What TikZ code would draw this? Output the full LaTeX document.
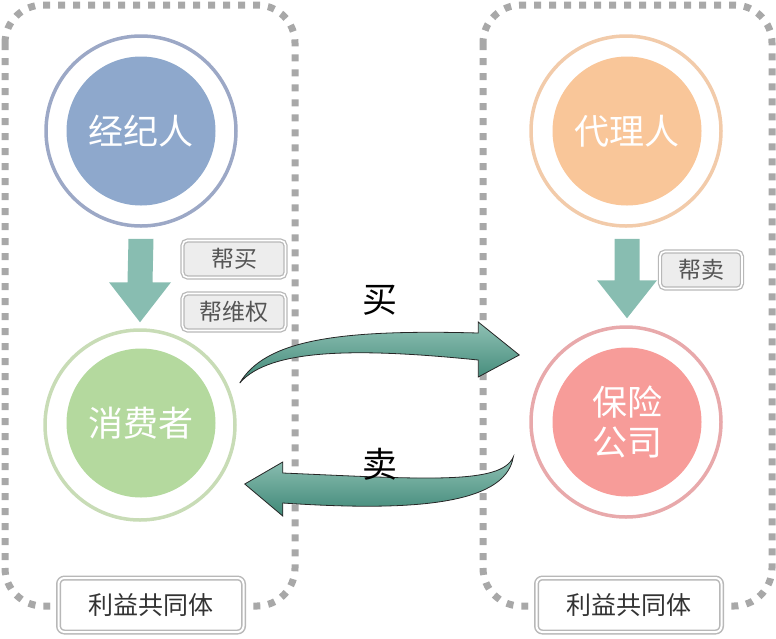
\documentclass[tikz,border=0pt]{standalone}
\usepackage{fontspec}
\newfontfamily\cjk{Noto Sans CJK SC}
\usetikzlibrary{calc}
\definecolor{dashgray}{HTML}{A8A8A8}
\definecolor{bluefill}{HTML}{8EA8CC}
\definecolor{bluering}{HTML}{9CA8C6}
\definecolor{orangefill}{HTML}{F9C699}
\definecolor{orangering}{HTML}{F2CBAA}
\definecolor{greenfill}{HTML}{B4D99E}
\definecolor{greenring}{HTML}{C8DCB6}
\definecolor{redfill}{HTML}{F79C99}
\definecolor{redring}{HTML}{E8A9AB}
\definecolor{downteal}{HTML}{88BDB1}
\definecolor{bigteal}{HTML}{5FA694}
\definecolor{bigtealdark}{HTML}{3F8877}
\definecolor{tagfill}{HTML}{EDEDED}
\definecolor{tagline}{HTML}{B8B8B8}
\definecolor{tagtext}{HTML}{555555}
\tikzset{
  groupbox/.style={draw=dashgray, line width=7pt, dash pattern=on 7pt off 8pt, rounded corners=38pt},
  ringc/.style={circle, inner sep=0pt, minimum size=190pt, line width=3.5pt, fill=white},
  corec/.style={circle, inner sep=0pt, minimum size=149pt, text=white, font=\cjk\fontsize{35}{40}\selectfont, align=center},
  tagbox/.style={draw=tagline, double=white, double distance=1.6pt, line width=1.3pt, fill=tagfill, rounded corners=5pt, text=tagtext, font=\cjk\fontsize{23}{26}\selectfont, inner sep=0pt, minimum height=37pt},
  groupname/.style={preaction={draw=white, line width=16pt}, draw=tagline, double=white, double distance=2pt, line width=1.5pt, fill=white, rounded corners=6pt, text=black!80, font=\cjk\fontsize{25}{28}\selectfont, inner sep=0pt, minimum width=185pt, minimum height=54pt},
  downarrow/.style={fill=downteal},
  bigarrow/.style={top color=bigteal!70!white, bottom color=bigtealdark, draw=black!85, line width=0.8pt},
  bigword/.style={font=\cjk\fontsize{35}{40}\selectfont, text=black}
}
\begin{document}
\begin{tikzpicture}[x=1pt, y=-1pt]
\useasboundingbox (0,0) rectangle (776,638);
% group boxes
\draw[groupbox] (5,5) rectangle (295,606);
\draw[groupbox] (483,5) rectangle (772,606);
% circles
\node[ringc, draw=bluering] (jjrR) at (141,131) {};
\node[corec, fill=bluefill] (jjr) at (141,131) {经纪人};
\node[ringc, draw=orangering] (dlrR) at (626,131) {};
\node[corec, fill=orangefill] (dlr) at (627,131) {代理人};
\node[ringc, draw=greenring] (xfzR) at (140,425) {};
\node[corec, fill=greenfill] (xfz) at (141,423) {消费者};
\node[ringc, draw=redring] (bxR) at (626,422) {};
\node[corec, fill=redfill] (bx) at (627,422) {保险\\公司};
% down arrows
\coordinate (la) at ($(jjrR.south)+(0,11)$);
\coordinate (lb) at ($(xfzR.north)+(0,-6)$);
\fill[downarrow] ($(la)+(-12.5,0)$) -- ($(la)+(12.5,0)$) -- ($(lb)+(12.5,-40)$) -- ($(lb)+(31,-40)$) -- (lb) -- ($(lb)+(-31,-40)$) -- ($(lb)+(-12.5,-40)$) -- cycle;
\coordinate (ra) at ($(dlrR.south)+(1,11)$);
\coordinate (rb) at ($(bxR.north)+(1,-7)$);
\fill[downarrow] ($(ra)+(-12.5,0)$) -- ($(ra)+(12.5,0)$) -- ($(rb)+(12.5,-38)$) -- ($(rb)+(30,-38)$) -- (rb) -- ($(rb)+(-30,-38)$) -- ($(rb)+(-12.5,-38)$) -- cycle;
% tags
\node[tagbox, minimum width=103pt] (bm) at (234,259) {帮买};
\node[tagbox, minimum width=103pt] (bwq) at (234,312) {帮维权};
\node[tagbox, minimum width=82pt] (bs) at (701,270) {帮卖};
% big arrows
\coordinate (buyS) at ($(xfzR.east)+(3,-42)$);
\coordinate (buyE) at ($(bxR.west)+(-10,-67)$);
\draw[bigarrow] (buyS) .. controls ($(buyS)+(25,-42)$) and ($(buyS)+(95,-54)$) .. ($(buyE)+(-41,-22)$)
  -- ($(buyE)+(-41,-33)$) -- (buyE) -- ($(buyE)+(-41,22)$) -- ($(buyE)+(-41,5)$)
  .. controls ($(buyS)+(120,-35)$) and ($(buyS)+(30,-35)$) .. (buyS) -- cycle;
\coordinate (sellS) at ($(bxR.west)+(-16,35)$);
\coordinate (sellE) at ($(xfzR.east)+(8,59)$);
\draw[bigarrow] (sellS) .. controls ($(sellS)+(-12,28)$) and ($(sellS)+(-90,22)$) .. ($(sellE)+(38,-11)$)
  -- ($(sellE)+(38,-22)$) -- (sellE) -- ($(sellE)+(38,32)$) -- ($(sellE)+(38,19)$)
  .. controls ($(sellS)+(-110,54)$) and ($(sellS)+(-8,50)$) .. (sellS) -- cycle;
\node[bigword] (wbuy) at (380,300) {买};
\node[bigword] (wsell) at (380,464) {卖};
% group names
\node[groupname] (g1) at (151,605) {利益共同体};
\node[groupname] (g2) at (629,605) {利益共同体};
\end{tikzpicture}
\end{document}
